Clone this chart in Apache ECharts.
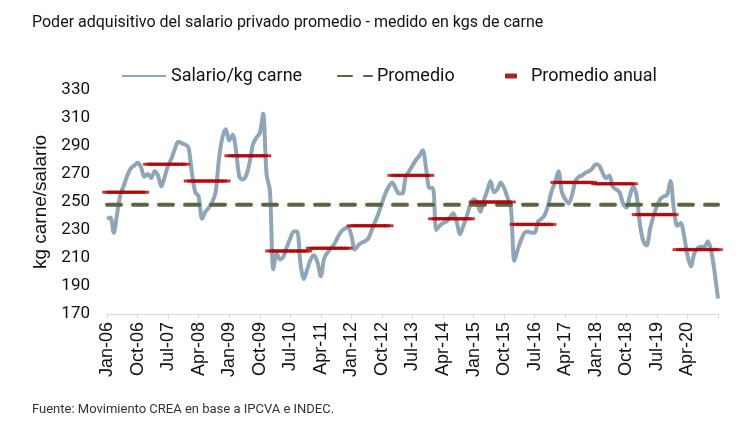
<!DOCTYPE html>
<html>
<head>
<meta charset="utf-8">
<title>Poder adquisitivo del salario privado</title>
<script src="https://cdn.jsdelivr.net/npm/echarts@6/dist/echarts.min.js"></script>
<style>
  html, body { margin: 0; padding: 0; background: #fff; }
  #chart { width: 755px; height: 430px; }
</style>
</head>
<body>
<div id="chart"></div>
<script>
const monthNames = ['Jan', 'Feb', 'Mar', 'Apr', 'May', 'Jun', 'Jul', 'Aug', 'Sep', 'Oct', 'Nov', 'Dec'];
const years = [2006, 2007, 2008, 2009, 2010, 2011, 2012, 2013, 2014, 2015, 2016, 2017, 2018, 2019, 2020];

// salario / kg carne, mensual (Jan-06 .. Jan-21)
const salarioKgCarne = [
  238, 239, 228, 242, 256, 262, 269, 274, 276, 278, 275, 268, // 2006
  270, 267, 272, 269, 261, 268, 276, 281, 288, 293, 292, 291, // 2007
  289, 271, 257, 254, 238, 243, 246, 250, 257, 281, 296, 302, // 2008
  294, 298, 287, 268, 266, 269, 278, 291, 296, 299, 313, 270, // 2009
  258, 202, 213, 209, 211, 218, 224, 229, 229, 206, 195, 202, // 2010
  209, 212, 207, 197, 210, 214, 217, 220, 225, 229, 231, 232, // 2011
  226, 216, 219, 221, 222, 224, 230, 236, 242, 249, 256, 261, // 2012
  264, 260, 256, 256, 268, 272, 276, 280, 283, 287, 274, 260, // 2013
  260, 230, 233, 235, 236, 239, 242, 236, 227, 233, 240, 248, // 2014
  252, 250, 243, 251, 258, 265, 257, 259, 264, 260, 253, 246, // 2015
  208, 216, 223, 228, 229, 228, 228, 236, 238, 241, 248, 258, // 2016
  264, 272, 257, 252, 249, 255, 265, 268, 269, 271, 272, 274, // 2017
  277, 276, 271, 267, 269, 261, 259, 257, 249, 246, 254, 261, // 2018
  255, 234, 222, 219, 231, 240, 247, 252, 254, 255, 265, 245, // 2019
  233, 235, 226, 212, 204, 213, 217, 218, 218, 222, 215, 200, // 2020
  181                                                          // Jan-21
];

// promedio anual por año
const promedioAnual = [257, 277, 265, 283, 215, 217, 233, 269, 238, 250, 234, 264, 263, 241, 216];
// promedio de todo el período
const promedioGeneral = 248;

const yMin = 170, yMax = 330, yStep = 20;

const categories = [];
years.forEach(y => monthNames.forEach(m => categories.push(m + '-' + String(y).slice(2))));
categories.push('Jan-21');

const promedioLine = categories.map(() => promedioGeneral);
const anualMarks = categories.map((c, i) => promedioAnual[Math.min(Math.floor(i / 12), promedioAnual.length - 1)]);

const font = "Roboto, 'Liberation Sans', sans-serif";
const arial = "'Liberation Sans', Arial, sans-serif";

const chart = echarts.init(document.getElementById('chart'));
chart.setOption({
  animation: false,
  title: {
    text: 'Poder adquisitivo del salario privado promedio - medido en kgs de carne',
    left: 27,
    top: 10,
    textStyle: { fontFamily: font, fontSize: 16, fontWeight: 'normal', color: '#111' }
  },
  legend: [
    {
      data: ['Salario/kg carne'],
      left: 116, top: 62,
      itemWidth: 44, itemHeight: 4,
      itemStyle: { opacity: 0 },
      textStyle: { fontFamily: font, fontSize: 18, color: '#111' }
    },
    {
      data: ['Promedio'],
      left: 332, top: 62,
      itemWidth: 34, itemHeight: 4,
      itemStyle: { opacity: 0 },
      textStyle: { fontFamily: font, fontSize: 18, color: '#111' }
    },
    {
      data: ['Promedio anual'],
      left: 500, top: 62,
      itemWidth: 10, itemHeight: 3,
      textStyle: { fontFamily: font, fontSize: 18, color: '#111', padding: [0, 0, 0, 10] }
    }
  ],
  grid: { left: 107, right: 37, top: 90, bottom: 116 },
  xAxis: {
    type: 'category',
    data: categories,
    boundaryGap: false,
    axisLine: { lineStyle: { color: '#d9d9d9', width: 1 } },
    axisTick: { interval: idx => idx % 9 === 0, length: 5, lineStyle: { color: '#d9d9d9' } },
    axisLabel: {
      interval: idx => idx % 9 === 0 && idx < 180,
      rotate: 90,
      margin: 8,
      fontFamily: arial,
      fontSize: 18,
      color: '#111'
    },
    splitLine: { show: false }
  },
  yAxis: {
    type: 'value',
    min: yMin, max: yMax, interval: yStep,
    name: 'kg carne/salario',
    nameLocation: 'middle',
    nameGap: 46,
    nameTextStyle: { fontFamily: arial, fontSize: 19, color: '#111' },
    axisLine: { show: false },
    axisTick: { show: false },
    splitLine: { show: false },
    axisLabel: { fontFamily: font, fontSize: 17, color: '#111', margin: 17 }
  },
  series: [
    {
      name: 'Salario/kg carne',
      type: 'line',
      data: salarioKgCarne,
      showSymbol: false,
      symbol: 'none',
      smooth: 0.3,
      lineStyle: { color: '#8fa6b8', width: 4 },
      itemStyle: { color: '#8fa6b8' }
    },
    {
      name: 'Promedio',
      type: 'line',
      data: promedioLine,
      symbol: 'none',
      lineStyle: { color: '#5b6443', width: 4, type: [14, 12], cap: 'round' },
      itemStyle: { color: '#5b6443' }
    },
    {
      name: 'Promedio anual',
      type: 'scatter',
      data: anualMarks,
      symbol: 'rect',
      symbolSize: [9, 2.5],
      itemStyle: { color: '#c00000', borderColor: '#8a0a10', borderWidth: 0.3 },
      z: 5
    }
  ],
  graphic: [
    {
      type: 'text',
      left: 32, top: 403,
      style: { text: 'Fuente: Movimiento CREA en base a IPCVA e INDEC.', font: "13px Roboto, 'Liberation Sans', sans-serif", fill: '#333' }
    }
  ]
});
</script>
</body>
</html>
